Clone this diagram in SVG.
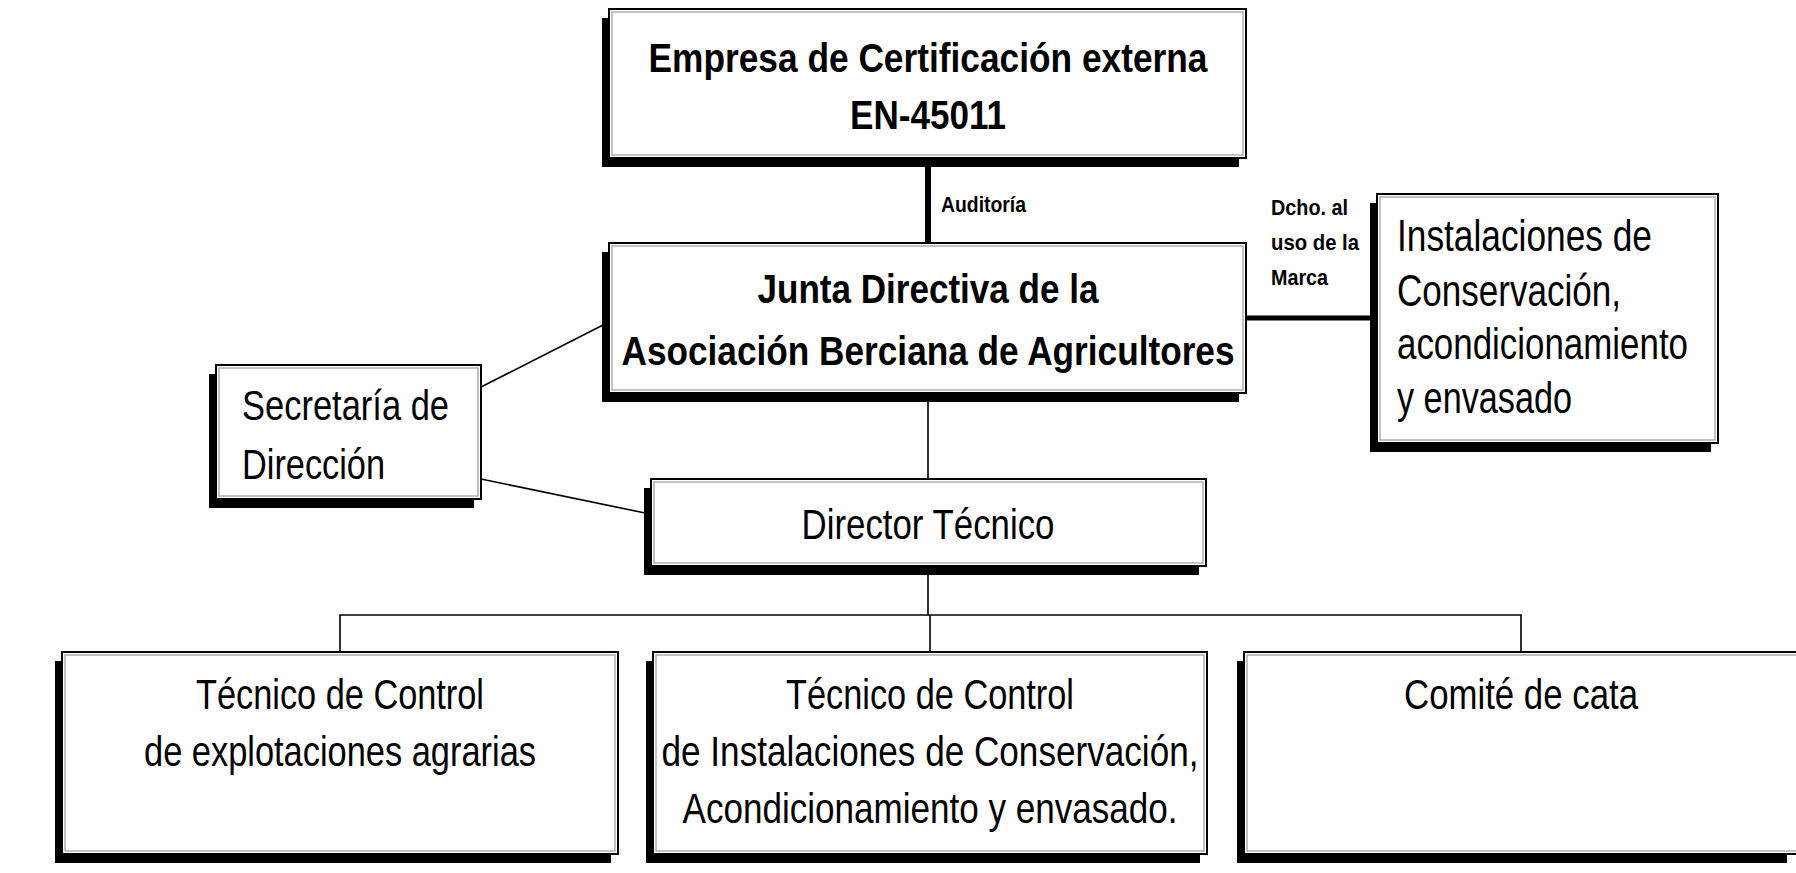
<svg xmlns="http://www.w3.org/2000/svg" width="1796" height="873" viewBox="0 0 1796 873">
<style>
text{font-family:"Liberation Sans Narrow","Liberation Sans",Arial,sans-serif;fill:#000}
.b{font-weight:bold}
.shadow{fill:#000}
.box{fill:#fff;stroke:#000;stroke-width:2}
.inner{fill:none;stroke:#999;stroke-width:1.2}
.thin{stroke:#000;stroke-width:1.6;fill:none}
.thick{stroke:#000;fill:none}
.mid{text-anchor:middle}
</style>
<rect width="1796" height="873" fill="#fff"/>
<g id="connectors">
<line class="thick" x1="928" y1="158" x2="928" y2="243" stroke-width="6"/>
<line class="thick" x1="1246" y1="318" x2="1372" y2="318" stroke-width="5"/>
<line class="thin" x1="481" y1="387" x2="603" y2="325"/>
<line class="thin" x1="481" y1="479" x2="645" y2="513"/>
<line class="thin" x1="928" y1="400" x2="928" y2="479"/>
<line class="thin" x1="928" y1="572" x2="928" y2="615"/>
<polyline class="thin" points="340,652 340,615 1521,615 1521,652"/>
<line class="thin" x1="930" y1="615" x2="930" y2="652"/>
<text class="b" x="941" y="212" font-size="22" textLength="85" lengthAdjust="spacingAndGlyphs">Auditoría</text>
<text class="b" x="1271" y="215" font-size="22" textLength="77" lengthAdjust="spacingAndGlyphs">Dcho. al</text>
<text class="b" x="1271" y="250" font-size="22" textLength="88" lengthAdjust="spacingAndGlyphs">uso de la</text>
<text class="b" x="1271" y="285" font-size="22" textLength="57" lengthAdjust="spacingAndGlyphs">Marca</text>
</g>
<g id="empresa">
<rect class="shadow" x="602" y="18" width="637" height="149"/>
<rect class="box" x="609" y="9" width="637" height="149"/>
<rect class="inner" x="612" y="12" width="631" height="143"/>
<text class="b mid" x="928" y="72" font-size="41" textLength="559" lengthAdjust="spacingAndGlyphs">Empresa de Certificación externa</text>
<text class="b mid" x="928" y="129" font-size="41" textLength="156" lengthAdjust="spacingAndGlyphs">EN-45011</text>
</g>
<g id="junta">
<rect class="shadow" x="602" y="252" width="637" height="150"/>
<rect class="box" x="609" y="243" width="637" height="150"/>
<rect class="inner" x="612" y="246" width="631" height="144"/>
<text class="b mid" x="928" y="303" font-size="41" textLength="341" lengthAdjust="spacingAndGlyphs">Junta Directiva de la</text>
<text class="b mid" x="928" y="365" font-size="41" textLength="613" lengthAdjust="spacingAndGlyphs">Asociación Berciana de Agricultores</text>
</g>
<g id="instalaciones">
<rect class="shadow" x="1370" y="203" width="341" height="249"/>
<rect class="box" x="1377" y="194" width="341" height="249"/>
<rect class="inner" x="1380" y="197" width="335" height="243"/>
<text x="1397" y="251" font-size="44" textLength="255" lengthAdjust="spacingAndGlyphs">Instalaciones de</text>
<text x="1397" y="306" font-size="44" textLength="224" lengthAdjust="spacingAndGlyphs">Conservación,</text>
<text x="1397" y="359" font-size="44" textLength="291" lengthAdjust="spacingAndGlyphs">acondicionamiento</text>
<text x="1397" y="413" font-size="44" textLength="175" lengthAdjust="spacingAndGlyphs">y envasado</text>
</g>
<g id="secretaria">
<rect class="shadow" x="209" y="374" width="265" height="134"/>
<rect class="box" x="216" y="365" width="265" height="134"/>
<rect class="inner" x="219" y="368" width="259" height="128"/>
<text x="242" y="420" font-size="43" textLength="207" lengthAdjust="spacingAndGlyphs">Secretaría de</text>
<text x="242" y="479" font-size="43" textLength="143" lengthAdjust="spacingAndGlyphs">Dirección</text>
</g>
<g id="director">
<rect class="shadow" x="644" y="488" width="555" height="87"/>
<rect class="box" x="651" y="479" width="555" height="87"/>
<rect class="inner" x="654" y="482" width="549" height="81"/>
<text class="mid" x="928" y="539" font-size="42" textLength="253" lengthAdjust="spacingAndGlyphs">Director Técnico</text>
</g>
<g id="tecnico-explotaciones">
<rect class="shadow" x="55" y="661" width="556" height="202"/>
<rect class="box" x="62" y="652" width="556" height="202"/>
<rect class="inner" x="65" y="655" width="550" height="196"/>
<text class="mid" x="340" y="709" font-size="42" textLength="288" lengthAdjust="spacingAndGlyphs">Técnico de Control</text>
<text class="mid" x="340" y="766" font-size="42" textLength="392" lengthAdjust="spacingAndGlyphs">de explotaciones agrarias</text>
</g>
<g id="tecnico-instalaciones">
<rect class="shadow" x="646" y="661" width="554" height="202"/>
<rect class="box" x="653" y="652" width="554" height="202"/>
<rect class="inner" x="656" y="655" width="548" height="196"/>
<text class="mid" x="930" y="709" font-size="42" textLength="288" lengthAdjust="spacingAndGlyphs">Técnico de Control</text>
<text class="mid" x="930" y="766" font-size="42" textLength="537" lengthAdjust="spacingAndGlyphs">de Instalaciones de Conservación,</text>
<text class="mid" x="930" y="823" font-size="42" textLength="495" lengthAdjust="spacingAndGlyphs">Acondicionamiento y envasado.</text>
</g>
<g id="comite">
<rect class="shadow" x="1237" y="661" width="550" height="202"/>
<rect class="box" x="1244" y="652" width="570" height="202"/>
<rect class="inner" x="1247" y="655" width="564" height="196"/>
<text class="mid" x="1521" y="709" font-size="42" textLength="234" lengthAdjust="spacingAndGlyphs">Comité de cata</text>
</g>
</svg>
